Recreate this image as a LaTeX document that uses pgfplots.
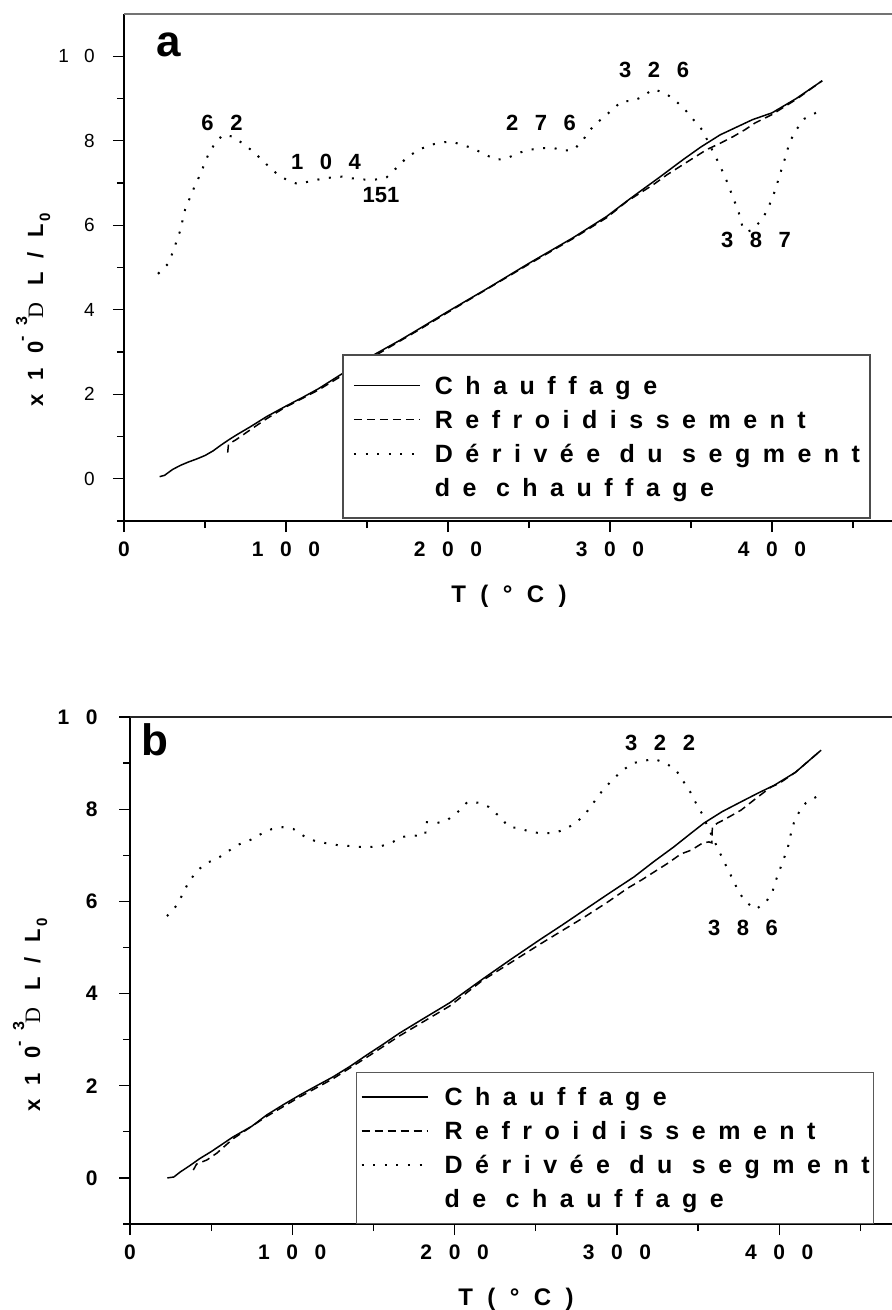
\documentclass[border=0pt]{standalone}
\usepackage{fontspec}
\setmainfont{Liberation Sans}
\newfontfamily\lsA[LetterSpace=50]{Liberation Sans}
\newfontfamily\lsB[LetterSpace=65]{Liberation Sans}
\newfontfamily\lsC[LetterSpace=60]{Liberation Sans}
\newfontfamily\serifD{Liberation Serif}
\usepackage{pgfplots}
\pgfplotsset{compat=1.18}

\newcommand\ts{\kern8.3pt}
\newcommand\tsy{\kern7.5pt}
\newcommand\ylab{%
 {\lsB\bfseries\fontsize{11}{11}\selectfont x10}%
 \raisebox{8pt}{\lsB\bfseries\fontsize{8}{8}\selectfont -3}%
 \kern-1pt{\serifD\fontsize{11}{11}\selectfont D}\kern8.5pt
 {\lsB\bfseries\fontsize{11}{11}\selectfont L/L}%
 \kern1.5pt\raisebox{-3.5pt}{\bfseries\fontsize{7.5}{7.5}\selectfont 0}}

\tikzset{
 solidl/.style={black, line width=0.75pt},
 dashl/.style={black, line width=0.75pt, dash pattern=on 4pt off 2.5pt},
 dotl/.style={black, line width=1pt, dash pattern=on 1pt off 4.8pt},
}
\pgfplotsset{
 common/.style={
  scale only axis, clip=false,
  xmin=0, xmax=500,
  axis x line*=bottom, axis y line*=left,
  axis line style={line width=1pt, black},
  xtick={0,100,200,300,400}, minor xtick={50,150,250,350,450},
  xticklabels={0,1\ts 0\ts 0,2\ts 0\ts 0,3\ts 0\ts 0,4\ts 0\ts 0},
  ytick={0,2,4,6,8,10}, minor ytick={-1,1,3,5,7,9},
  yticklabels={0,2,4,6,8,1\tsy 0},
  tick align=outside, major tick length=5.5pt, minor tick length=3.5pt,
  tick style={black, line width=0.65pt},
  xticklabel style={font=\bfseries\fontsize{10.5}{10.5}\selectfont, inner sep=0pt, anchor=north, yshift=-4.5pt},
  legend cell align=left,
  legend image code/.code={\draw[##1] (0pt,0pt) -- (33pt,0pt);},
 },
}

\begin{document}
\begin{tikzpicture}
% ---------------- panel a ----------------
\begin{axis}[common,
  at={(62pt,-260.5pt)}, anchor=south west,
  width=405pt, height=253.5pt,
  ymin=-1, ymax=11,
  yticklabel style={font=\fontsize{9.5}{9.5}\selectfont, inner sep=0pt, anchor=east, xshift=-9pt},
  legend style={at={(axis cs:134.6,2.95)}, anchor=north west, draw=black!70, line width=0.9pt, fill=white,
    inner xsep=5pt, inner ysep=10pt, row sep=6.5pt, column sep=7pt,
    nodes={inner sep=0pt, text height=9.5pt, text depth=1pt},
    font=\lsA\bfseries\fontsize{12.5}{12.5}\selectfont},
]
\draw[black!55, line width=0.9pt] (rel axis cs:0,1) -- (rel axis cs:1,1);
\addplot[solidl] coordinates {
(22,0.05)(25,0.08)(30,0.22)(35,0.32)(40,0.4)(45,0.47)(50,0.55)(55,0.66)(60,0.8)(65,0.93)
(70,1.05)(78,1.23)(88,1.47)(99,1.7)(110,1.92)(120,2.13)(134,2.47)(145,2.72)(155,2.95)
(170,3.27)(181,3.52)(200,3.96)(225,4.52)(250,5.1)(277,5.7)(298,6.21)(310,6.56)(318.5,6.8)
(330,7.12)(345,7.55)(356,7.85)(368,8.14)(378,8.32)(388,8.5)(400,8.66)(415,9.0)(431,9.42)};
\addlegendentry{Chauffage}
\addplot[dashl] coordinates {
(64,0.62)(64.5,0.82)(69,0.92)(78,1.16)(88,1.42)(99,1.68)(120,2.1)(150,2.8)(181,3.5)
(200,3.94)(250,5.08)(277,5.68)(298,6.18)(310.3,6.56)(318.5,6.76)(326.7,6.96)(335,7.19)
(343.2,7.39)(351.4,7.59)(359.7,7.79)(368,7.94)(376.1,8.1)(383.3,8.26)(389.5,8.42)
(400,8.62)(415,8.98)(431,9.42)};
\addlegendentry{Refroidissement}
\addplot[dotl] coordinates {
(21,4.85)(27,5.08)(30,5.35)(34.6,5.86)(37.7,6.37)(42.7,6.84)(47,7.2)(52,7.67)(56,7.93)
(61,8.14)(67,8.1)(74.7,7.9)(81,7.7)(88,7.44)(94,7.23)(101,7.06)(107,6.98)(115,7.04)
(122,7.1)(128,7.13)(134.5,7.15)(141,7.11)(149,7.08)(155,7.08)(162,7.13)(168,7.35)
(174.5,7.6)(181.6,7.78)(189,7.9)(196,7.96)(202,7.98)(209,7.9)(215.5,7.82)(223,7.67)
(230,7.55)(236,7.58)(243,7.7)(249,7.78)(257,7.82)(264,7.84)(271,7.77)(277,7.77)
(282.7,7.98)(287.7,8.26)(294,8.49)(301,8.72)(307.4,8.94)(314,8.94)(320,9.04)(326.5,9.22)
(334,9.13)(340,8.96)(346,8.75)(351,8.52)(356.8,8.26)(360,8.02)(363.6,7.74)(366.7,7.5)
(370,7.23)(373,6.96)(376,6.64)(379,6.37)(382,5.93)(385,5.85)(388,5.9)(394,6.14)
(397.5,6.4)(400.6,6.68)(403,6.96)(405,7.22)(408,7.58)(411,7.98)(415,8.26)(420,8.52)(428,8.68)};
\addlegendentry{Dérivée du segment}
\addlegendimage{empty legend}
\addlegendentry{de chauffage}
\begin{scope}[every node/.style={font=\bfseries\fontsize{11}{11}\selectfont, inner sep=0pt}]
\node at (axis cs:60.5,8.42) {6\ts 2};
\node at (axis cs:124.7,7.50) {1\ts 0\ts 4};
\node at (axis cs:158.6,6.72) {151};
\node at (axis cs:257.4,8.42) {2\ts 7\ts 6};
\node at (axis cs:327.2,9.68) {3\ts 2\ts 6};
\node at (axis cs:390.1,5.65) {3\ts 8\ts 7};
\end{scope}
\end{axis}

% ---------------- panel b ----------------
\begin{axis}[common,
  at={(65pt,-612pt)}, anchor=south west,
  width=405.75pt, height=253.5pt,
  ymin=-1, ymax=10,
  yticklabel style={font=\bfseries\fontsize{10.5}{10.5}\selectfont, inner sep=0pt, anchor=east, xshift=-10.5pt},
  yticklabels={0,2,4,6,8,1\ts 0},
  legend style={at={(axis cs:139.2,-1)}, anchor=south west, draw=black!65, line width=0.7pt, fill=white,
    inner xsep=2pt, inner ysep=7pt, row sep=6.5pt, column sep=8pt,
    nodes={inner sep=0pt, text height=9.5pt, text depth=1pt},
    font=\lsA\bfseries\fontsize{12.5}{12.5}\selectfont},
]
\draw[black!85, line width=0.6pt] (rel axis cs:0,1) -- (rel axis cs:1,1);
\addplot[solidl] coordinates {
(23,0)(27,0.02)(31,0.13)(37,0.27)(43,0.42)(50,0.57)(63.5,0.89)(75,1.12)(84.4,1.37)(95,1.6)
(104.7,1.8)(115,2.0)(125,2.19)(136,2.43)(146,2.67)(156,2.9)(166,3.14)(180,3.44)(197,3.8)
(217.5,4.32)(235,4.75)(253,5.18)(266,5.48)(279,5.79)(295,6.17)(310.5,6.53)(323,6.87)
(335,7.18)(345,7.46)(353.7,7.7)(365,7.95)(376.5,8.16)(387,8.35)(397,8.52)(410,8.8)(425.8,9.28)};
\addlegendentry{Chauffage}
\addplot[dashl] coordinates {
(39,0.17)(41,0.3)(47.4,0.39)(53.6,0.54)(63.5,0.85)(84,1.33)(104.7,1.76)(125,2.15)(146,2.62)
(166,3.08)(197,3.73)(217,4.28)(253,5.08)(280,5.66)(294.5,5.99)(306.8,6.29)(315,6.46)
(323,6.64)(331.5,6.83)(339.5,7.03)(345.7,7.11)(353,7.27)(356.8,7.29)(358.5,7.27)(358.8,7.61)
(362,7.7)(366,7.77)(376.5,7.98)(387,8.27)(395,8.48)(400,8.56)(410,8.8)(425.8,9.28)};
\addlegendentry{Refroidissement}
\addplot[dotl] coordinates {
(22.8,5.68)(29,5.92)(32.5,6.16)(35.9,6.4)(40.7,6.64)(46.8,6.83)(53.5,6.92)(60.5,7.09)
(67.4,7.24)(74,7.33)(80.6,7.46)(87.4,7.57)(94,7.61)(100.7,7.57)(107.8,7.4)(114,7.31)
(121,7.26)(128,7.22)(135.5,7.2)(141.7,7.18)(147.9,7.18)(155,7.2)(162,7.29)(168,7.4)
(174.4,7.42)(180.5,7.44)(182,7.45)(182.3,7.72)(189,7.7)(195,7.75)(202,7.94)(208,8.16)
(215,8.14)(221,8.05)(228,7.83)(233.5,7.61)(240,7.59)(247,7.5)(254,7.48)(261,7.48)
(267,7.55)(274.8,7.7)(281,7.92)(286,8.16)(291,8.4)(297.6,8.65)(303.8,8.85)(310,9.0)
(316.7,9.05)(323,9.09)(330,9.0)(336.4,8.85)(341,8.6)(345.6,8.35)(349,8.11)(353,7.87)
(356,7.61)(359,7.4)(361.7,7.18)(365,6.94)(368.5,6.68)(372,6.44)(375,6.2)(380,5.97)
(385.7,5.83)(392,5.99)(396,6.23)(398,6.46)(400.5,6.7)(403,6.94)(405.4,7.18)(406.7,7.4)
(409,7.7)(412,7.92)(416.5,8.14)(423,8.27)};
\addlegendentry{Dérivée du segment}
\addlegendimage{empty legend}
\addlegendentry{de chauffage}
\begin{scope}[every node/.style={font=\bfseries\fontsize{11}{11}\selectfont, inner sep=0pt}]
\node at (axis cs:326.6,9.44) {3\ts 2\ts 2};
\node at (axis cs:377.7,5.42) {3\ts 8\ts 6};
\end{scope}
\end{axis}

% panel letters, axis titles
\node[anchor=base west, inner sep=0pt, font=\bfseries\fontsize{22}{22}\selectfont] at (78pt,-28.5pt) {a};
\node[anchor=base west, inner sep=0pt, font=\bfseries\fontsize{22}{22}\selectfont] at (70.5pt,-377.5pt) {b};
\node[anchor=base west, inner sep=0pt, font=\lsC\bfseries\fontsize{12}{12}\selectfont] at (225.5pt,-301pt) {T(°C)};
\node[anchor=base west, inner sep=0pt, font=\lsC\bfseries\fontsize{12}{12}\selectfont] at (229pt,-652.5pt) {T(°C)};
\node[rotate=90, anchor=base west, inner sep=0pt] at (21.5pt,-203.5pt) {\ylab};
\node[rotate=90, anchor=base west, inner sep=0pt] at (20pt,-556pt) {\ylab};

\pgfresetboundingbox
\useasboundingbox (0pt,0pt) rectangle (445.5pt,-655pt);
\end{tikzpicture}
\end{document}
